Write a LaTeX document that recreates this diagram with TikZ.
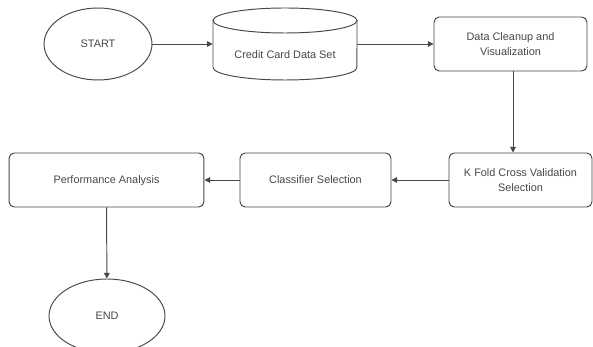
\documentclass[tikz,border=0pt]{standalone}
\usepackage{fontspec}
\setmainfont{Liberation Sans}
\usetikzlibrary{shapes.geometric,arrows.meta}
\definecolor{inkgray}{HTML}{484848}
\definecolor{txtgray}{HTML}{474747}
\tikzset{
  terminal/.style={ellipse, draw=inkgray, line width=0.55pt, inner sep=0pt},
  stepbox/.style={rectangle, rounded corners=3pt, draw=inkgray, line width=0.55pt,
    minimum height=1.08cm, align=center, inner sep=1pt},
  flow/.style={draw=inkgray, line width=0.55pt, -{Triangle[length=3.2pt,width=3.2pt]}},
  every node/.style={font=\fontsize{6.2}{8.2}\selectfont, text=txtgray}
}
\begin{document}
\begin{tikzpicture}[x=0.02cm, y=-0.02cm]
  \useasboundingbox (0,0) rectangle (593,347);
  % Top row: start, data set, cleanup
  \node[terminal, minimum width=2.16cm, minimum height=1.44cm] (start) at (98,44) {START};
  \node[minimum width=2.88cm, minimum height=1.44cm, inner sep=0pt] (data) at (285,44) {};
  \node at (285,55) {Credit Card Data Set};
  % Cylinder outline round the data node
  \draw[inkgray, line width=0.55pt] (285,20.5) ellipse [x radius=1.44cm, y radius=0.25cm];
  \draw[inkgray, line width=0.55pt] (213,20.5) -- (213,67.5)
    arc[start angle=180, end angle=360, x radius=1.44cm, y radius=0.25cm] -- (357,20.5);
  \node[stepbox, minimum width=3.06cm] (clean) at (510.5,44) {Data Cleanup and\\Visualization};
  % Middle row, right to left
  \node[stepbox, minimum width=2.86cm] (kfold) at (520.5,180) {K Fold Cross Validation\\Selection};
  \node[stepbox, minimum width=3.02cm] (classifier) at (315.5,180) {Classifier Selection};
  \node[stepbox, minimum width=3.90cm, text depth=0pt] (perf) at (106.5,180) {Performance Analysis};
  % End
  \node[terminal, minimum width=2.32cm, minimum height=1.48cm] (end) at (107,316) {END};
  % Connectors
  \draw[flow] (start) -- (data);
  \draw[flow] (data) -- (clean);
  \draw[flow] ([xshift=0.05cm]clean.south) -- ([xshift=0.05cm]clean.south |- kfold.north);
  \draw[flow] (kfold) -- (classifier);
  \draw[flow] (classifier) -- (perf);
  \draw[flow] (perf) -- (end);
\end{tikzpicture}
\end{document}
